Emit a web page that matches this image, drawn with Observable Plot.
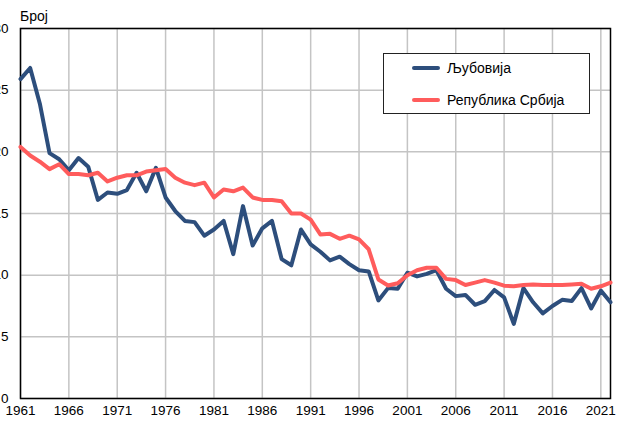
<!DOCTYPE html>
<html>
<head>
<meta charset="utf-8">
<script src="https://cdn.jsdelivr.net/npm/d3@7"></script>
<script src="https://cdn.jsdelivr.net/npm/@observablehq/plot@0.6"></script>
<style>
  html, body { margin: 0; padding: 0; background: #fff; overflow: hidden; width: 617px; height: 421px; }
  #wrap { position: relative; width: 617px; height: 421px; overflow: hidden; font-family: "Liberation Sans", Arial, sans-serif; }
  #chart svg { display: block; margin-left: -20px; max-width: none !important; width: 637px; height: 421px; }
  #ylab { position: absolute; left: 20px; top: 8px; font-size: 14px; color: #000; }
  #legend { position: absolute; left: 383px; top: 53px; width: 207px; height: 61px; border: 1px solid #222; background: #fff; box-sizing: border-box; }
  .item { position: absolute; left: 28px; font-size: 14px; color: #000; white-space: nowrap; }
  .sw { display: inline-block; width: 28px; height: 4px; border-radius: 2px; vertical-align: middle; margin-right: 7px; position: relative; top: -1px; }
</style>
</head>
<body>
<div id="wrap">
  <div id="chart"></div>
  <div id="ylab">Број</div>
  <div id="legend">
    <div class="item" style="top:6px"><span class="sw" style="background:#2d4e7c"></span>Љубовија</div>
    <div class="item" style="top:38px"><span class="sw" style="background:#ff5c5c"></span>Република Србија</div>
  </div>
</div>
<script>
const years = [1961,1962,1963,1964,1965,1966,1967,1968,1969,1970,
  1971,1972,1973,1974,1975,1976,1977,1978,1979,1980,
  1981,1982,1983,1984,1985,1986,1987,1988,1989,1990,
  1991,1992,1993,1994,1995,1996,1997,1998,1999,2000,
  2001,2002,2003,2004,2005,2006,2007,2008,2009,2010,
  2011,2012,2013,2014,2015,2016,2017,2018,2019,2020,
  2021,2022];
const ljubovija = [25.9,26.8,23.9,19.9,19.4,18.5,19.5,18.8,16.1,16.7,
  16.6,16.9,18.3,16.8,18.7,16.3,15.2,14.4,14.3,13.2,
  13.7,14.4,11.7,15.6,12.4,13.8,14.4,11.3,10.8,13.7,
  12.5,11.9,11.2,11.5,10.9,10.4,10.3,7.95,8.95,8.9,
  10.2,9.9,10.1,10.4,8.9,8.3,8.4,7.6,7.9,8.8,
  8.2,6.05,8.95,7.8,6.9,7.5,8.0,7.9,8.95,7.3,
  8.75,7.8];
const srbija = [20.4,19.7,19.2,18.6,19.0,18.2,18.2,18.1,18.3,17.6,
  17.9,18.1,18.1,18.4,18.5,18.6,17.9,17.5,17.3,17.5,
  16.3,16.95,16.8,17.1,16.3,16.1,16.1,16.0,15.0,15.0,
  14.5,13.3,13.35,12.95,13.2,12.9,12.1,9.65,9.16,9.35,
  10.0,10.4,10.6,10.6,9.7,9.6,9.2,9.4,9.6,9.4,
  9.15,9.1,9.2,9.25,9.2,9.2,9.2,9.25,9.3,8.9,
  9.1,9.4];
const xTicks = [1961,1966,1971,1976,1981,1986,1991,1996,2001,2006,2011,2016,2021];
const yTicks = [0,5,10,15,20,25,30];

const dataL = years.map((y, i) => ({year: y, value: ljubovija[i]}));
const dataS = years.map((y, i) => ({year: y, value: srbija[i]}));

const chart = Plot.plot({
  width: 637,
  height: 421,
  marginLeft: 40,
  marginRight: 7,
  marginTop: 28,
  marginBottom: 23,
  style: {fontFamily: "Liberation Sans, Arial, sans-serif", fontSize: "13.5px", background: "#fff", color: "#000"},
  x: {domain: [1961, 2022], ticks: xTicks, tickFormat: d => String(d), tickSize: 0, tickPadding: 7, label: null},
  y: {domain: [0, 30], ticks: yTicks, tickSize: 0, tickPadding: 12, label: null},
  marks: [
    Plot.ruleX(xTicks, {stroke: "#c4c4c4", strokeWidth: 1.5}),
    Plot.ruleY(yTicks, {stroke: "#c4c4c4", strokeWidth: 1.5}),
    Plot.frame({stroke: "#000", strokeWidth: 1.5}),
    Plot.line(dataL, {x: "year", y: "value", stroke: "#2d4e7c", strokeWidth: 4}),
    Plot.line(dataS, {x: "year", y: "value", stroke: "#ff5c5c", strokeWidth: 4})
  ]
});
document.getElementById("chart").appendChild(chart);
</script>
</body>
</html>
